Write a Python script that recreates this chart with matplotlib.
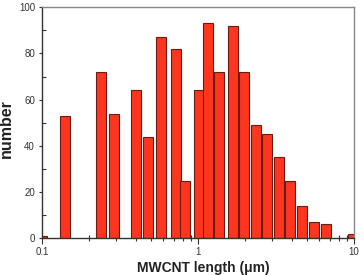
import numpy as np
import matplotlib
matplotlib.use("Agg")
import matplotlib.pyplot as plt
from matplotlib.ticker import LogLocator, MultipleLocator, NullFormatter

plt.rcParams['font.family'] = ['Liberation Sans', 'DejaVu Sans']

# bar centres (um) and counts
lengths = [0.1, 0.14, 0.24, 0.29, 0.40, 0.478, 0.58, 0.72, 0.83, 1.02, 1.16,
           1.36, 1.68, 1.96, 2.34, 2.77, 3.29, 3.91, 4.67, 5.55, 6.59, 9.8]
counts = [1, 53, 72, 54, 64, 44, 87, 82, 25, 64, 93,
          72, 92, 72, 49, 45, 35, 25, 14, 7, 6, 2]
xtick_vals = [0.1, 1, 10]
xtick_labels = ['0.1', '1', '10']

half = 0.032  # half bar width in decades
lengths = np.array(lengths)
left = lengths * 10 ** (-half)
width = lengths * 10 ** half - left

fig = plt.figure(figsize=(3.64, 2.75), dpi=100)
ax = fig.add_axes([0.1154, 0.1335, 0.857, 0.84])

ax.bar(left, counts, width=width, align='edge', color='#ff3520',
       edgecolor='#6b1c12', linewidth=0.8, zorder=2)

ax.set_xscale('log')
ax.set_xlim(0.1, 10)
ax.set_ylim(0, 100)
ax.set_xticks(xtick_vals, xtick_labels)
ax.xaxis.set_minor_locator(LogLocator(base=10, subs=np.arange(2, 10)))
ax.xaxis.set_minor_formatter(NullFormatter())
ax.yaxis.set_major_locator(MultipleLocator(20))
ax.yaxis.set_minor_locator(MultipleLocator(10))

ax.tick_params(axis='x', which='major', direction='out', length=4, width=0.8,
               labelsize=7, pad=2, colors='#333')
ax.tick_params(axis='x', which='minor', direction='inout', length=4, width=0.8,
               colors='#333')
ax.tick_params(axis='y', which='major', direction='out', length=2, width=0.8,
               labelsize=7, pad=3, colors='#333')
ax.tick_params(axis='y', which='minor', direction='in', length=3, width=0.8,
               colors='#333')

for s in ['left', 'bottom']:
    ax.spines[s].set_color('#333')
    ax.spines[s].set_linewidth(1.0)
for s in ['top', 'right']:
    ax.spines[s].set_color('#888')
    ax.spines[s].set_linewidth(1.0)

ax.set_ylabel('number', fontsize=11.5, fontweight='bold', color='#222')
ax.yaxis.set_label_coords(-0.09, 0.477)
ax.set_xlabel('MWCNT length (μm)', fontsize=10, fontweight='bold', color='#222')
ax.xaxis.set_label_coords(0.516, -0.098)

fig.savefig('out.png', dpi=100)
